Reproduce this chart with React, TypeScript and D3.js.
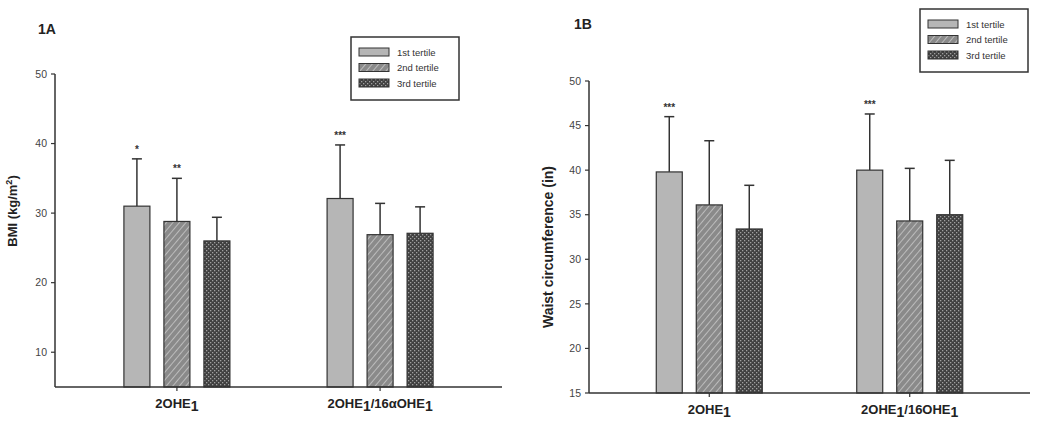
import React from "react";
import * as d3 from "d3";

// categories and series
const groupsA = ["2OHE1", "2OHE1/16aOHE1"];
const groupsB = ["2OHE1", "2OHE1/16OHE1"];
const tertiles = ["1st tertile", "2nd tertile", "3rd tertile"];

// BMI means and upper error bar ends (kg/m2)
const bmiMean = [
  [31.0, 28.8, 26.0],
  [32.1, 26.9, 27.1],
];
const bmiUpper = [
  [37.8, 35.0, 29.4],
  [39.8, 31.4, 30.9],
];
const bmiStars = [
  ["*", "**", ""],
  ["***", "", ""],
];

// Waist circumference means and upper error bar ends (in)
const waistMean = [
  [39.8, 36.1, 33.4],
  [40.0, 34.3, 35.0],
];
const waistUpper = [
  [46.0, 43.3, 38.3],
  [46.3, 40.2, 41.1],
];
const waistStars = [
  ["***", "", ""],
  ["***", "", ""],
];

const bmiTicks = [10, 20, 30, 40, 50];
const waistTicks = [15, 20, 25, 30, 35, 40, 45, 50];

const fills = ["#b6b6b6", "url(#hatch)", "url(#checks)"];
const font = "Liberation Sans, Arial, sans-serif";

// label with subscript 1's
function SubLabel(props) {
  const { x, y, parts } = props;
  return (
    <text x={x} y={y} textAnchor="middle" fontFamily={font} fontSize={13} fontWeight="bold" fill="#222">
      {parts.map((p, i) =>
        p === "1" ? (
          <tspan key={i} dy={3} fontSize={14}>1</tspan>
        ) : (
          <tspan key={i} dy={i > 0 ? -3 : 0}>{p}</tspan>
        )
      )}
    </text>
  );
}

function Panel(props) {
  const { x0, x1, yTop, yBottom, domain, ticks, groups, labels, mean, upper, stars, title, titleX, titleY, yLabel, yLabelX, yLabelY, yLabelSize, legendX, legendY } = props;

  const x = d3.scalePoint().domain(groups).range([x0, x1]).padding(0.6);
  const sub = d3.scalePoint().domain(tertiles).range([-40, 40]);
  const y = d3.scaleLinear().domain(domain).range([yBottom, yTop]);
  const barW = 26;

  return (
    <g>
      <text x={titleX} y={titleY} fontFamily={font} fontSize={14} fontWeight="bold" fill="#222">{title}</text>
      <text
        transform={`translate(${yLabelX},${yLabelY}) rotate(-90)`}
        textAnchor="middle"
        fontFamily={font}
        fontSize={yLabelSize}
        fontWeight="bold"
        fill="#222"
      >
        {yLabel}
      </text>

      {groups.map((g, gi) =>
        tertiles.map((t, ti) => {
          const cx = x(g) + sub(t);
          return (
            <g key={g + t}>
              <line x1={cx} x2={cx} y1={y(mean[gi][ti])} y2={y(upper[gi][ti])} stroke="#333" strokeWidth={1.5} />
              <line x1={cx - 5} x2={cx + 5} y1={y(upper[gi][ti])} y2={y(upper[gi][ti])} stroke="#333" strokeWidth={1.5} />
              <rect
                x={cx - barW / 2}
                y={y(mean[gi][ti])}
                width={barW}
                height={yBottom - y(mean[gi][ti])}
                fill={fills[ti]}
                stroke="#333"
                strokeWidth={1.2}
              />
              {stars[gi][ti] && (
                <text x={cx} y={y(upper[gi][ti]) - 6} textAnchor="middle" fontFamily={font} fontSize={10} fontWeight="bold" fill="#333">
                  {stars[gi][ti]}
                </text>
              )}
            </g>
          );
        })
      )}

      {/* y axis */}
      <line x1={x0} x2={x0} y1={yTop} y2={yBottom} stroke="#333" strokeWidth={1.5} />
      {ticks.map((v) => (
        <g key={v} transform={`translate(${x0},${y(v)})`}>
          <line x1={-4} x2={0} stroke="#333" strokeWidth={1.2} />
          <text x={-8} dy="0.35em" textAnchor="end" fontFamily={font} fontSize={10.5} fill="#444">{v}</text>
        </g>
      ))}

      {/* x axis */}
      <line x1={x0} x2={x1} y1={yBottom} y2={yBottom} stroke="#333" strokeWidth={1.5} />
      {groups.map((g, gi) => (
        <g key={g}>
          <line x1={x(g)} x2={x(g)} y1={yBottom} y2={yBottom + 4} stroke="#333" strokeWidth={1.2} />
          <SubLabel x={x(g)} y={yBottom + 21} parts={labels[gi]} />
        </g>
      ))}

      {/* legend */}
      <g transform={`translate(${legendX},${legendY})`}>
        <rect width={108} height={63} fill="white" stroke="#333" strokeWidth={1.5} />
        {tertiles.map((t, ti) => (
          <g key={t} transform={`translate(8,${11 + ti * 15.5})`}>
            <rect width={30} height={8} fill={fills[ti]} stroke="#333" strokeWidth={1} />
            <text x={38} y={7.5} fontFamily={font} fontSize={9.5} fill="#333">{t}</text>
          </g>
        ))}
      </g>
    </g>
  );
}

export default function App() {
  return (
    <svg width={1050} height={428} style={{ position: "absolute", left: 0, top: 0, background: "white" }}>
      <defs>
        <pattern id="hatch" width={5} height={5} patternUnits="userSpaceOnUse" patternTransform="rotate(40)">
          <rect width={5} height={5} fill="#8a8a8a" />
          <line x1={0} y1={0} x2={0} y2={5} stroke="#cdcdcd" strokeWidth={1.5} />
        </pattern>
        <pattern id="checks" width={4} height={4} patternUnits="userSpaceOnUse">
          <rect width={4} height={4} fill="#404040" />
          <rect width={1.3} height={1.3} x={0} y={0} fill="#a0a0a0" />
          <rect width={1.3} height={1.3} x={2} y={2} fill="#a0a0a0" />
        </pattern>
      </defs>

      <Panel
        x0={55}
        x1={502}
        yTop={74}
        yBottom={387}
        domain={[5, 50]}
        ticks={bmiTicks}
        groups={groupsA}
        labels={[["2OHE", "1"], ["2OHE", "1", "/16\u03b1OHE", "1"]]}
        mean={bmiMean}
        upper={bmiUpper}
        stars={bmiStars}
        title="1A"
        titleX={38}
        titleY={34}
        yLabel={<>BMI (kg/m<tspan dy={-5} fontSize={9}>2</tspan><tspan dy={5}>)</tspan></>}
        yLabelX={17}
        yLabelY={211}
        yLabelSize={13}
        legendX={351}
        legendY={37}
      />
      <Panel
        x0={589}
        x1={1030}
        yTop={81}
        yBottom={393}
        domain={[15, 50]}
        ticks={waistTicks}
        groups={groupsB}
        labels={[["2OHE", "1"], ["2OHE", "1", "/16OHE", "1"]]}
        mean={waistMean}
        upper={waistUpper}
        stars={waistStars}
        title="1B"
        titleX={574}
        titleY={29}
        yLabel="Waist circumference (in)"
        yLabelX={553}
        yLabelY={247}
        yLabelSize={14}
        legendX={920}
        legendY={9}
      />
    </svg>
  );
}
